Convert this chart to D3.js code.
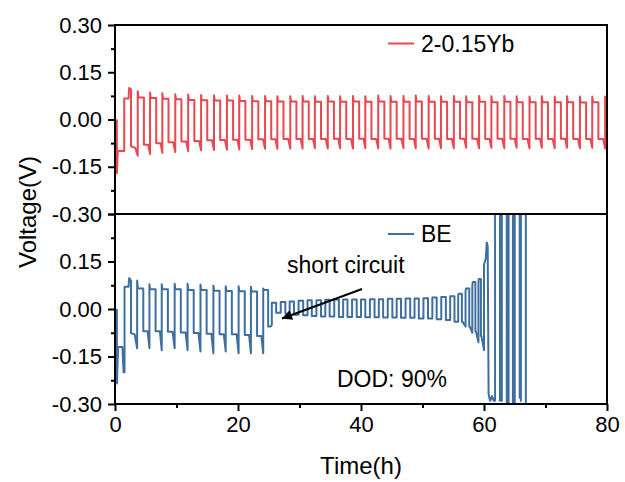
<!DOCTYPE html>
<html>
<head>
<meta charset="utf-8">
<script src="https://cdn.jsdelivr.net/npm/d3@7/dist/d3.min.js"></script>
<style>
  html, body { margin: 0; padding: 0; background: #fff; }
  svg { display: block; font-family: "Liberation Sans", Arial, sans-serif; }
</style>
</head>
<body>
<svg id="chart" width="625" height="482"></svg>
<script>
// ---- Axis ticks ----
const xMajorTicks = [0, 20, 40, 60, 80];
const xMinorTicks = [10, 30, 50, 70];
const yMajorTicks = [-0.30, -0.15, 0.00, 0.15, 0.30];
const yMinorTicks = [-0.225, -0.075, 0.075, 0.225];

// ---- 2-0.15Yb (top panel) ----
// start-up segment as [time, voltage]
const ybLeadT = [0.3, 0.32, 0.45, 1.5, 1.5, 2.2, 2.3, 2.6, 2.6, 3.3, 3.7];
const ybLeadV = [0.0, -0.17, -0.10, -0.10, 0.067, 0.067, 0.10, 0.095, -0.085, -0.09, -0.115];
// regular cycles: switch-on time, switch-over time, and the voltages per cycle
const ybUp = [3.7, 5.7, 7.7, 9.8, 11.9, 14.0, 16.1, 18.2, 20.2, 22.3, 24.4, 26.4, 28.5, 30.5, 32.5, 34.6, 36.6, 38.7, 40.7, 42.8, 44.8, 46.9, 48.9, 51.0, 53.0, 55.1, 57.1, 59.2, 61.2, 63.3, 65.3, 67.4, 69.4, 71.5, 73.5, 75.6, 77.6, 79.7];
const ybDown = [4.7, 6.7, 8.7, 10.8, 12.9, 15.0, 17.1, 19.2, 21.2, 23.3, 25.4, 27.4, 29.5, 31.5, 33.5, 35.6, 37.6, 39.7, 41.7, 43.8, 45.8, 47.9, 49.9, 52.0, 54.0, 56.1, 58.1, 60.2, 62.2, 64.3, 66.3, 68.4, 70.4, 72.5, 74.5, 76.6, 78.6, 80.7];
const ybPeak = [0.09, 0.086, 0.083, 0.080, 0.079, 0.078, 0.077, 0.076, 0.076, 0.075, 0.075, 0.074, 0.074, 0.075, 0.074, 0.075, 0.074, 0.075, 0.074, 0.076, 0.075, 0.075, 0.076, 0.075, 0.074, 0.075, 0.074, 0.075, 0.074, 0.075, 0.074, 0.073, 0.074, 0.073, 0.074, 0.073, 0.073, 0.073];
const ybHigh = [0.070, 0.068, 0.066, 0.064, 0.062, 0.061, 0.060, 0.060, 0.059, 0.058, 0.058, 0.057, 0.057, 0.057, 0.056, 0.057, 0.056, 0.057, 0.056, 0.057, 0.056, 0.056, 0.057, 0.056, 0.056, 0.056, 0.055, 0.056, 0.055, 0.056, 0.055, 0.055, 0.055, 0.055, 0.055, 0.054, 0.055, 0.054];
const ybLow = [-0.080, -0.075, -0.072, -0.070, -0.068, -0.066, -0.065, -0.064, -0.064, -0.063, -0.063, -0.062, -0.062, -0.062, -0.062, -0.061, -0.062, -0.061, -0.062, -0.061, -0.061, -0.062, -0.061, -0.061, -0.062, -0.061, -0.061, -0.062, -0.061, -0.061, -0.062, -0.061, -0.062, -0.061, -0.062, -0.062, -0.062, -0.062];
const ybTrough = [-0.110, -0.106, -0.103, -0.100, -0.098, -0.097, -0.096, -0.095, -0.094, -0.093, -0.093, -0.092, -0.092, -0.091, -0.092, -0.091, -0.092, -0.091, -0.091, -0.092, -0.091, -0.091, -0.092, -0.091, -0.091, -0.090, -0.091, -0.090, -0.091, -0.090, -0.091, -0.090, -0.091, -0.090, -0.091, -0.090, -0.092, -0.092];

// ---- BE (bottom panel) ----
const beLeadT = [0.3, 0.32, 0.5, 1.2, 1.4, 1.55, 1.55, 2.2, 2.3, 2.6, 2.6, 3.2, 3.6];
const beLeadV = [0.0, -0.235, -0.12, -0.12, -0.20, -0.20, 0.07, 0.07, 0.098, 0.09, -0.076, -0.08, -0.124];
const beUp = [3.6, 5.6, 7.6, 9.7, 11.8, 13.9, 16.0, 18.0, 20.1, 22.1, 24.1,
  25.5, 26.95, 28.4, 29.85, 31.3, 32.75, 34.2, 35.65, 37.1, 38.55, 40.0, 41.45, 42.9, 44.35, 45.8, 47.25, 48.7, 50.15, 51.6, 53.05, 54.5,
  55.8, 57.0, 58.1, 59.1];
const beDown = [4.6, 6.6, 8.6, 10.7, 12.8, 14.9, 17.0, 19.0, 21.1, 23.1, 24.9,
  26.2, 27.7, 29.1, 30.6, 32.0, 33.5, 34.9, 36.4, 37.8, 39.3, 40.7, 42.2, 43.6, 45.1, 46.5, 48.0, 49.4, 50.9, 52.3, 53.8, 55.2,
  56.4, 57.6, 58.6, 59.5];
const bePeak = [0.090, 0.078, 0.078, 0.080, 0.080, 0.077, 0.074, 0.072, 0.072, 0.070, 0.065,
  0.020, 0.022, 0.024, 0.026, 0.028, 0.028, 0.029, 0.030, 0.030, 0.030, 0.030, 0.031, 0.031, 0.032, 0.032, 0.033, 0.033, 0.034, 0.036, 0.038, 0.040,
  0.042, 0.055, 0.070, 0.085];
const beHigh = [0.065, 0.062, 0.062, 0.062, 0.060, 0.060, 0.058, 0.057, 0.056, 0.055, 0.060,
  0.020, 0.022, 0.024, 0.026, 0.028, 0.028, 0.029, 0.030, 0.030, 0.030, 0.030, 0.031, 0.031, 0.032, 0.032, 0.033, 0.033, 0.034, 0.036, 0.038, 0.040,
  0.048, 0.065, 0.085, 0.095];
const beLow = [-0.070, -0.070, -0.072, -0.074, -0.076, -0.078, -0.080, -0.080, -0.082, -0.085, -0.055,
  -0.012, -0.015, -0.018, -0.020, -0.022, -0.024, -0.024, -0.025, -0.025, -0.025, -0.026, -0.026, -0.027, -0.027, -0.028, -0.028, -0.030, -0.030, -0.032, -0.035, -0.040,
  -0.040, -0.055, -0.070, -0.085];
const beTrough = [-0.124, -0.130, -0.124, -0.130, -0.134, -0.140, -0.134, -0.140, -0.140, -0.140, -0.050,
  -0.012, -0.015, -0.018, -0.020, -0.022, -0.024, -0.024, -0.025, -0.025, -0.025, -0.026, -0.026, -0.027, -0.027, -0.028, -0.028, -0.030, -0.030, -0.032, -0.035, -0.040,
  -0.055, -0.075, -0.105, -0.130];
// failure segment, values beyond the axis range are cut at the frame
const beTailT = [60.0, 60.3, 60.45, 60.6, 60.75, 61.0, 61.3, 61.6, 61.8, 61.8, 62.6, 62.6, 62.9, 62.9, 63.7, 63.7, 64.0, 64.0, 64.7, 64.7, 65.0, 65.0, 65.8, 65.8, 65.9, 66.0, 66.0, 66.8, 66.8];
const beTailV = [0.14, 0.16, 0.21, 0.20, -0.27, -0.29, -0.275, -0.29, -0.29, 0.40, 0.40, -0.29, -0.29, 0.40, 0.40, -0.40, -0.40, 0.40, 0.40, -0.40, -0.40, 0.40, 0.40, -0.28, -0.26, -0.29, 0.40, 0.40, -0.40];

// ---- layout ----
const svg = d3.select("#chart");
const left = 115, right = 607;
const topY0 = 25, midY = 214, botY1 = 404;

const x = d3.scaleLinear().domain([0, 80]).range([left, right]);
const yTop = d3.scaleLinear().domain([-0.3, 0.3]).range([midY, topY0]);
const yBot = d3.scaleLinear().domain([-0.3, 0.3]).range([botY1, midY]);

// turns the per-cycle readings into a polyline
function cyclePoints(up, down, peak, high, low, trough, dip, endT) {
  const pts = [];
  up.forEach((u, i) => {
    const d = down[i];
    const n = i + 1 < up.length ? up[i + 1] : endT;
    pts.push([u, peak[i]], [u + 0.12 * (d - u), high[i]], [d, high[i]]);
    if (n !== undefined) {
      pts.push([d, low[i]], [d + (1 - dip) * (n - d), low[i]], [n, trough[i]]);
    }
  });
  return pts;
}
const zip = (t, v) => t.map((ti, i) => [ti, v[i]]);

const ybPts = zip(ybLeadT, ybLeadV).concat(
  cyclePoints(ybUp, ybDown, ybPeak, ybHigh, ybLow, ybTrough, 0.3, undefined));
// small-amplitude cycles use a sloped lower half
const beBig = 11;
const bePts = zip(beLeadT, beLeadV)
  .concat(cyclePoints(beUp.slice(0, beBig), beDown.slice(0, beBig), bePeak.slice(0, beBig),
    beHigh.slice(0, beBig), beLow.slice(0, beBig), beTrough.slice(0, beBig), 0.3, beUp[beBig]))
  .concat(cyclePoints(beUp.slice(beBig), beDown.slice(beBig), bePeak.slice(beBig),
    beHigh.slice(beBig), beLow.slice(beBig), beTrough.slice(beBig), 0.85, beTailT[0]))
  .concat(zip(beTailT, beTailV));

const defs = svg.append("defs");
defs.append("clipPath").attr("id", "clipTop").append("rect")
  .attr("x", left).attr("y", topY0).attr("width", right - left).attr("height", midY - topY0);
defs.append("clipPath").attr("id", "clipBot").append("rect")
  .attr("x", left).attr("y", midY).attr("width", right - left).attr("height", botY1 - midY);

const redColor = "#e8484f";
const blueColor = "#3f6f9f";

svg.append("path")
  .attr("clip-path", "url(#clipTop)")
  .attr("d", d3.line().x(d => x(d[0])).y(d => yTop(d[1]))(ybPts))
  .attr("fill", "none").attr("stroke", redColor).attr("stroke-width", 2)
  .attr("stroke-linejoin", "round");

svg.append("path")
  .attr("clip-path", "url(#clipBot)")
  .attr("d", d3.line().x(d => x(d[0])).y(d => yBot(d[1]))(bePts))
  .attr("fill", "none").attr("stroke", blueColor).attr("stroke-width", 2)
  .attr("stroke-linejoin", "round");

// ---- frames ----
const frame = svg.append("g").attr("fill", "none").attr("stroke", "#000").attr("stroke-width", 2);
frame.append("rect").attr("x", left).attr("y", topY0).attr("width", right - left).attr("height", botY1 - topY0);
frame.append("line").attr("x1", left).attr("x2", right).attr("y1", midY).attr("y2", midY);

// ---- y axes ----
const fmt = d => d.toFixed(2);
function yAxis(scale, labelled) {
  const g = svg.append("g").attr("transform", `translate(${left},0)`);
  g.call(d3.axisLeft(scale).tickValues(yMajorTicks).tickSize(7).tickPadding(6)
    .tickFormat(d => labelled(d) ? fmt(d) : ""));
  g.call(gg => gg.select(".domain").remove());
  g.selectAll(".tick line").attr("stroke-width", 2);
  g.selectAll(".tick text").attr("font-size", 22).attr("fill", "#000")
    .attr("font-family", "Liberation Sans, Arial, sans-serif");
  const m = svg.append("g").attr("transform", `translate(${left},0)`);
  m.call(d3.axisLeft(scale).tickValues(yMinorTicks).tickSize(4).tickFormat(""));
  m.call(gg => gg.select(".domain").remove());
  m.selectAll(".tick line").attr("stroke-width", 2);
}
yAxis(yTop, () => true);
yAxis(yBot, d => d < 0.29);

// ---- x axis ----
const gx = svg.append("g").attr("transform", `translate(0,${botY1})`);
gx.call(d3.axisBottom(x).tickValues(xMajorTicks).tickSize(7).tickPadding(5).tickFormat(d => String(d)));
gx.call(g => g.select(".domain").remove());
gx.selectAll(".tick line").attr("stroke-width", 2);
gx.selectAll(".tick text").attr("font-size", 22).attr("fill", "#000")
  .attr("font-family", "Liberation Sans, Arial, sans-serif");
const gxm = svg.append("g").attr("transform", `translate(0,${botY1})`);
gxm.call(d3.axisBottom(x).tickValues(xMinorTicks).tickSize(4).tickFormat(""));
gxm.call(g => g.select(".domain").remove());
gxm.selectAll(".tick line").attr("stroke-width", 2);

// ---- titles ----
svg.append("text").attr("x", (left + right) / 2).attr("y", 474)
  .attr("text-anchor", "middle").attr("font-size", 24).text("Time(h)");
svg.append("text").attr("transform", "translate(36,212) rotate(-90)")
  .attr("text-anchor", "middle").attr("font-size", 24).text("Voltage(V)");

// ---- legends ----
svg.append("line").attr("x1", 388).attr("x2", 414).attr("y1", 43.5).attr("y2", 43.5)
  .attr("stroke", redColor).attr("stroke-width", 2);
svg.append("text").attr("x", 421).attr("y", 52).attr("font-size", 23).text("2-0.15Yb");
svg.append("line").attr("x1", 388).attr("x2", 414).attr("y1", 234).attr("y2", 234)
  .attr("stroke", blueColor).attr("stroke-width", 2);
svg.append("text").attr("x", 421).attr("y", 242).attr("font-size", 23).text("BE");

// ---- annotations ----
svg.append("text").attr("x", 287).attr("y", 273).attr("font-size", 23).text("short circuit");
svg.append("text").attr("x", 337).attr("y", 387).attr("font-size", 23).text("DOD: 90%");

defs.append("marker").attr("id", "arrowHead").attr("viewBox", "0 0 10 10")
  .attr("refX", 10).attr("refY", 5).attr("markerWidth", 7).attr("markerHeight", 5)
  .attr("markerUnits", "strokeWidth").attr("orient", "auto")
  .append("path").attr("d", "M0,0 L10,5 L0,10 Z").attr("fill", "#000");
svg.append("line").attr("x1", 362).attr("y1", 289).attr("x2", 282).attr("y2", 318.5)
  .attr("stroke", "#000").attr("stroke-width", 2).attr("marker-end", "url(#arrowHead)");
</script>
</body>
</html>
